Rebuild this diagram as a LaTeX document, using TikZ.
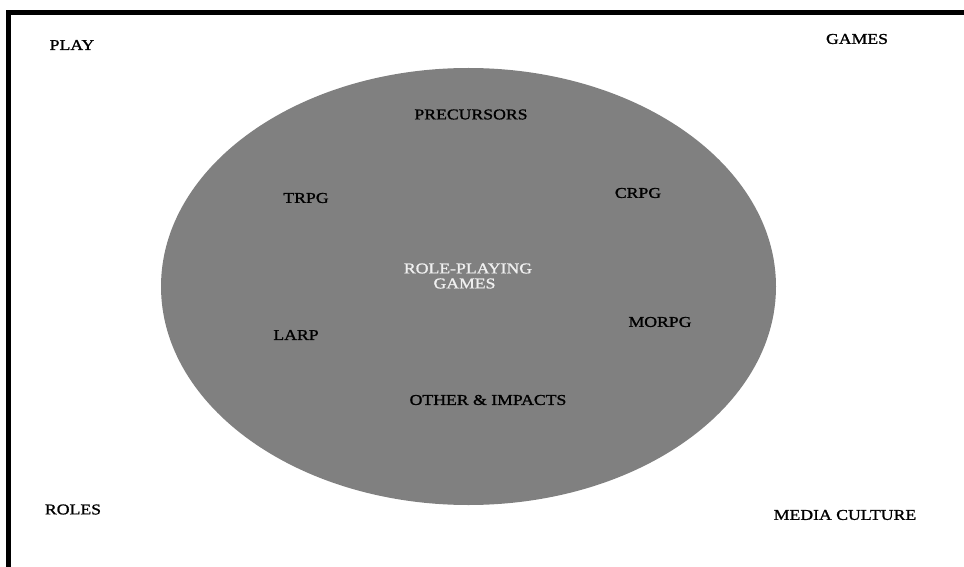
\documentclass[tikz,border=0pt]{standalone}
\usepackage{fontspec}
\setmainfont{Liberation Serif}[FakeStretch=1.18, FakeBold=1.2]
\begin{document}
\begin{tikzpicture}[x=1pt,y=-1pt,
  lbl/.style={font=\fontsize{15}{16}\selectfont, inner sep=0pt, text=black},
  inlbl/.style={lbl},
  rpglbl/.style={lbl, text=white!94!black, align=center}]
\useasboundingbox (0,0) rectangle (964,567);
\fill[white] (0,0) rectangle (964,567);
\draw[line width=5pt] (8.5,567) -- (8.5,12.5) -- (964,12.5);
\fill[fill={rgb,255:red,128;green,128;blue,128}] (468.5,286.5) ellipse [x radius=307.5, y radius=218.5];
\node[lbl] (play) at (72,45) {PLAY};
\node[lbl] (games) at (857,39) {GAMES};
\node[lbl] (roles) at (73,509.5) {ROLES};
\node[lbl] (media) at (845,515) {MEDIA CULTURE};
\node[inlbl] (prec) at (471,114.5) {PRECURSORS};
\node[inlbl] (trpg) at (306,198) {TRPG};
\node[inlbl] (crpg) at (638,193) {CRPG};
\node[rpglbl] (rpg) at (468,276) {ROLE-PLAYING\\[-1pt]\hspace*{-7pt}GAMES};
\node[inlbl] (larp) at (296,335) {LARP};
\node[inlbl] (morpg) at (660,322) {MORPG};
\node[inlbl] (other) at (488,400) {OTHER \& IMPACTS};
\end{tikzpicture}
\end{document}
